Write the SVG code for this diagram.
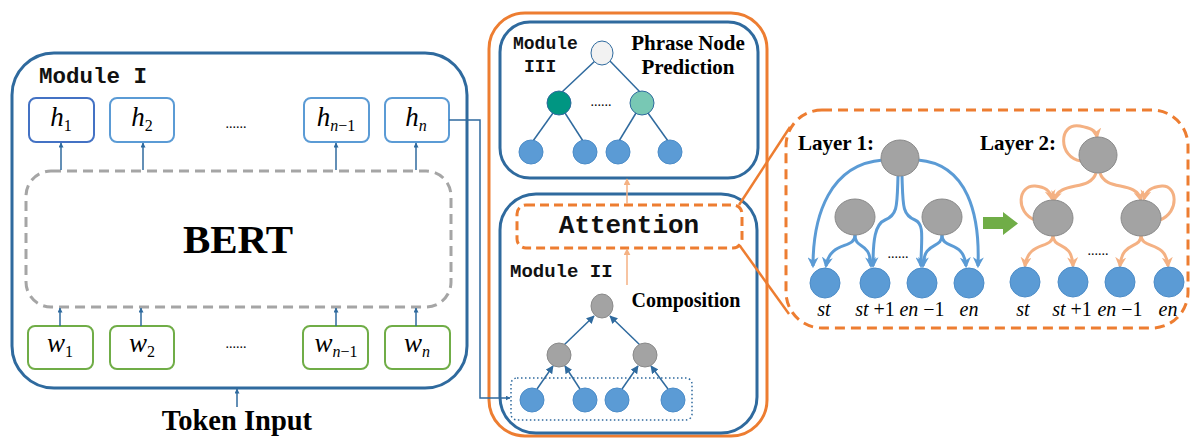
<svg xmlns="http://www.w3.org/2000/svg" width="1192" height="438" viewBox="0 0 1192 438">
<defs>
<style>
.mod{fill:none;stroke:#2F6A9E;stroke-width:3}
.hbox{fill:#fff;stroke:#5B9BD5;stroke-width:2}
.wbox{fill:#fff;stroke:#70AD47;stroke-width:2}
.mono{font-family:"Liberation Mono","Courier New",monospace;font-weight:bold;fill:#111}
.serifb{font-family:"Liberation Serif","Times New Roman",serif;font-weight:bold;fill:#000}
.math{font-family:"Liberation Serif","Times New Roman",serif;fill:#000}
.it{font-style:italic}
.dots{font-family:"Liberation Serif",serif;font-size:14px;fill:#000}
.gray{fill:#A3A3A3;stroke:#8A8A8A;stroke-width:1}
.leaf{fill:#5B9BD5;stroke:#4C8CC8;stroke-width:1}
.thin{stroke:#2F6A9E;stroke-width:1.5;fill:none}
.b1{stroke:#5B9BD5;stroke-width:3;fill:none;marker-end:url(#ab)}
.o2{stroke:#F4B183;stroke-width:3;fill:none;marker-end:url(#ao)}
.tree3{stroke:#2F6A9E;stroke-width:1.5}
</style>
<marker id="as" viewBox="0 0 10 10" refX="9" refY="5" markerWidth="5" markerHeight="5" markerUnits="userSpaceOnUse" orient="auto">
<path d="M0,0 L10,5 L0,10 z" fill="#2F6A9E"/>
</marker>
<marker id="am" viewBox="0 0 10 10" refX="9" refY="5" markerWidth="8" markerHeight="8" markerUnits="userSpaceOnUse" orient="auto">
<path d="M0,0 L10,5 L0,10 z" fill="#2F6A9E"/>
</marker>
<marker id="al" viewBox="0 0 10 10" refX="9" refY="5" markerWidth="7" markerHeight="7" markerUnits="userSpaceOnUse" orient="auto">
<path d="M0,0 L10,5 L0,10 z" fill="#F4B183"/>
</marker>
<marker id="ab" viewBox="0 0 10 10" refX="8" refY="5" markerWidth="11" markerHeight="11" markerUnits="userSpaceOnUse" orient="auto">
<path d="M0,0 L10,5 L0,10 L3,5 z" fill="#5B9BD5"/>
</marker>
<marker id="ao" viewBox="0 0 10 10" refX="8" refY="5" markerWidth="11" markerHeight="11" markerUnits="userSpaceOnUse" orient="auto">
<path d="M0,0 L10,5 L0,10 L3,5 z" fill="#F4B183"/>
</marker>
</defs>

<g id="module1">
<rect class="mod" x="12" y="53" width="455" height="335" rx="42"/>
<text class="mono" x="39" y="83" font-size="22.5">Module I</text>
</g>
<g id="bert">
<rect x="26" y="171" width="425" height="136" rx="25" fill="none" stroke="#A5A5A5" stroke-width="3" stroke-dasharray="10 6"/>
<text class="serifb" x="238" y="253" font-size="41" text-anchor="middle">BERT</text>
</g>
<g id="h1"><rect x="29" y="98" width="65" height="44" rx="7" fill="#fff" stroke="#4472C4" stroke-width="2"/>
<text class="math" x="61" y="126" font-size="27" text-anchor="middle"><tspan class="it">h</tspan><tspan font-size="16" dy="5">1</tspan></text></g>
<g id="h2"><rect class="hbox" x="110" y="98" width="64" height="44" rx="7"/>
<text class="math" x="142" y="126" font-size="27" text-anchor="middle"><tspan class="it">h</tspan><tspan font-size="16" dy="5">2</tspan></text></g>
<g id="hdots"><text class="dots" x="236" y="128" text-anchor="middle">......</text></g>
<g id="hn1"><rect class="hbox" x="304" y="98" width="65" height="44" rx="7"/>
<text class="math" x="336" y="126" font-size="27" text-anchor="middle"><tspan class="it">h</tspan><tspan font-size="16" dy="5"><tspan class="it">n</tspan>−1</tspan></text></g>
<g id="hn"><rect class="hbox" x="385" y="98" width="64" height="44" rx="7"/>
<text class="math" x="416" y="126" font-size="27" text-anchor="middle"><tspan class="it">h</tspan><tspan font-size="16" dy="5" class="it">n</tspan></text></g>

<g id="w1"><rect class="wbox" x="28" y="326" width="65" height="43" rx="7"/>
<text class="math" x="60" y="352" font-size="27" text-anchor="middle"><tspan class="it">w</tspan><tspan font-size="16" dy="5">1</tspan></text></g>
<g id="w2"><rect class="wbox" x="110" y="326" width="64" height="43" rx="7"/>
<text class="math" x="142" y="352" font-size="27" text-anchor="middle"><tspan class="it">w</tspan><tspan font-size="16" dy="5">2</tspan></text></g>
<g id="wdots"><text class="dots" x="236" y="348" text-anchor="middle">......</text></g>
<g id="wn1"><rect class="wbox" x="303" y="326" width="65" height="43" rx="7"/>
<text class="math" x="336" y="352" font-size="27" text-anchor="middle"><tspan class="it">w</tspan><tspan font-size="16" dy="5"><tspan class="it">n</tspan>−1</tspan></text></g>
<g id="wn"><rect class="wbox" x="385" y="326" width="65" height="43" rx="7"/>
<text class="math" x="417" y="352" font-size="27" text-anchor="middle"><tspan class="it">w</tspan><tspan font-size="16" dy="5" class="it">n</tspan></text></g>

<g id="token-input"><text class="serifb" x="237" y="430" font-size="28.5" text-anchor="middle">Token Input</text></g>

<g id="outer-orange"><rect x="489" y="13" width="278" height="423" rx="36" fill="none" stroke="#ED7D31" stroke-width="3"/></g>

<g id="module3">
<rect class="mod" x="500" y="22" width="258" height="156" rx="30"/>
<text class="mono" x="513" y="49" font-size="18">Module</text>
<text class="mono" x="524" y="72" font-size="18">III</text>
<text class="serifb" x="688" y="50" font-size="21" text-anchor="middle">Phrase Node</text>
<text class="serifb" x="688" y="74" font-size="21" text-anchor="middle">Prediction</text>
<g class="tree3">
<line x1="596" y1="60" x2="562" y2="92"/><line x1="609" y1="60" x2="640" y2="92"/>
<line x1="553" y1="113" x2="533" y2="141"/><line x1="565" y1="113" x2="583" y2="141"/>
<line x1="636" y1="113" x2="619" y2="141"/><line x1="648" y1="113" x2="668" y2="141"/>
</g>
<ellipse cx="602" cy="53" rx="11" ry="12" fill="#F2F2F2" stroke="#2F6A9E" stroke-width="1"/>
<ellipse cx="559" cy="103" rx="12" ry="12" fill="#009682" stroke="#2F6A9E" stroke-width="1"/>
<ellipse cx="642" cy="103" rx="12" ry="12" fill="#78C8B4" stroke="#2F6A9E" stroke-width="1"/>
<text class="dots" x="601" y="106" text-anchor="middle">......</text>
<circle class="leaf" cx="531" cy="152" r="12"/><circle class="leaf" cx="585" cy="152" r="12"/>
<circle class="leaf" cx="618" cy="152" r="12"/><circle class="leaf" cx="670" cy="152" r="12"/>
</g>

<g id="module2">
<rect class="mod" x="500" y="194" width="257" height="239" rx="36"/>
<text class="mono" x="510" y="277" font-size="19">Module II</text>
<text class="serifb" x="686" y="307" font-size="20" text-anchor="middle">Composition</text>
<rect x="511" y="378" width="181" height="42" rx="6" fill="none" stroke="#2F6A9E" stroke-width="1.5" stroke-dasharray="1.5 2.5"/>
<g class="thin" marker-end="url(#am)">
<line x1="537" y1="389" x2="553" y2="366"/><line x1="580" y1="389" x2="565" y2="366"/>
<line x1="622" y1="389" x2="638" y2="366"/><line x1="668" y1="389" x2="651" y2="366"/>
<line x1="564" y1="345" x2="594" y2="316"/><line x1="640" y1="345" x2="610" y2="316"/>
</g>
<ellipse class="gray" cx="602" cy="306" rx="11" ry="12"/>
<ellipse class="gray" cx="559" cy="355" rx="12" ry="12"/>
<ellipse class="gray" cx="645" cy="355" rx="12" ry="12"/>
<circle class="leaf" cx="532" cy="400" r="12"/><circle class="leaf" cx="585" cy="400" r="12"/>
<circle class="leaf" cx="617" cy="400" r="12"/><circle class="leaf" cx="673" cy="400" r="12"/>
</g>

<g id="attention">
<rect x="517" y="205" width="225" height="43" rx="9" fill="#fff" stroke="#ED7D31" stroke-width="3" stroke-dasharray="9 5"/>
<text class="mono" x="629" y="233" font-size="26" text-anchor="middle">Attention</text>
</g>

<g id="layers">
<rect x="786" y="110" width="402" height="218" rx="36" fill="none" stroke="#ED7D31" stroke-width="3" stroke-dasharray="10 6"/>
<text class="serifb" x="798" y="150" font-size="21">Layer 1:</text>
<text class="serifb" x="980" y="150" font-size="21">Layer 2:</text>
<g id="layer1">
<path class="b1" d="M883,160 C830,164 813,215 813,266"/>
<path class="b1" d="M918,160 C968,164 980,215 978,266"/>
<path class="b1" d="M898,176 C897,205 898,215 885,220 C875,224 873,240 873,266"/>
<path class="b1" d="M902,176 C903,205 902,215 915,220 C925,224 921,240 921,266"/>
<path class="b1" d="M855,235 C855,250 830,240 826,266"/>
<path class="b1" d="M855,235 C855,250 870,240 871,266"/>
<path class="b1" d="M942,235 C942,250 924,240 923,266"/>
<path class="b1" d="M942,235 C942,250 964,240 966,266"/>
<ellipse class="gray" cx="900" cy="158" rx="19" ry="18"/>
<ellipse class="gray" cx="855" cy="217" rx="20" ry="18"/>
<ellipse class="gray" cx="942" cy="217" rx="20" ry="18"/>
<text class="dots" x="898" y="258" text-anchor="middle">......</text>
<circle class="leaf" cx="825" cy="283" r="15"/><circle class="leaf" cx="875" cy="283" r="15"/>
<circle class="leaf" cx="922" cy="283" r="15"/><circle class="leaf" cx="969" cy="283" r="15"/>
<text class="math it" font-size="20" y="316" text-anchor="middle" x="824">st</text>
<text class="math" font-size="20" y="316" text-anchor="middle" x="875"><tspan class="it">st</tspan> +1</text>
<text class="math" font-size="20" y="316" text-anchor="middle" x="922"><tspan class="it">en</tspan> −1</text>
<text class="math it" font-size="20" y="316" text-anchor="middle" x="969">en</text>
</g>
<g id="green-arrow"><path d="M983,217 H1003 V212 L1018,223.5 L1003,235 V229 H983 z" fill="#70AD47"/></g>
<g id="layer2">
<path class="o2" d="M1081,161 C1058,158 1058,122 1080,126 C1090,128 1096,130 1097,137"/>
<path class="o2" d="M1096,173 C1090,192 1060,180 1054,200"/>
<path class="o2" d="M1100,173 C1106,192 1136,180 1141,200"/>
<path class="o2" d="M1035,220 C1015,212 1018,185 1035,186 C1045,187 1050,190 1052,199"/>
<path class="o2" d="M1160,220 C1180,212 1177,185 1162,186 C1152,187 1146,190 1144,199"/>
<path class="o2" d="M1053,235 C1053,250 1028,240 1025,266"/>
<path class="o2" d="M1053,235 C1053,250 1072,240 1073,266"/>
<path class="o2" d="M1141,235 C1141,250 1122,240 1120,266"/>
<path class="o2" d="M1141,235 C1141,250 1166,240 1168,266"/>
<ellipse class="gray" cx="1098" cy="155" rx="19" ry="18"/>
<ellipse class="gray" cx="1053" cy="218" rx="20" ry="18"/>
<ellipse class="gray" cx="1141" cy="218" rx="20" ry="18"/>
<text class="dots" x="1098" y="255" text-anchor="middle">......</text>
<circle class="leaf" cx="1025" cy="282" r="15"/><circle class="leaf" cx="1073" cy="282" r="15"/>
<circle class="leaf" cx="1120" cy="282" r="15"/><circle class="leaf" cx="1169" cy="282" r="15"/>
<text class="math it" font-size="20" y="316" text-anchor="middle" x="1023">st</text>
<text class="math" font-size="20" y="316" text-anchor="middle" x="1072"><tspan class="it">st</tspan> +1</text>
<text class="math" font-size="20" y="316" text-anchor="middle" x="1120"><tspan class="it">en</tspan> −1</text>
<text class="math it" font-size="20" y="316" text-anchor="middle" x="1168">en</text>
</g>
</g>

<g id="connectors">
<g class="thin" marker-end="url(#as)">
<line x1="61" y1="170" x2="61" y2="143"/><line x1="143" y1="170" x2="143" y2="143"/>
<line x1="336" y1="170" x2="336" y2="143"/><line x1="416" y1="170" x2="416" y2="143"/>
<line x1="60" y1="326" x2="60" y2="308"/><line x1="141" y1="326" x2="141" y2="308"/>
<line x1="336" y1="326" x2="336" y2="308"/><line x1="416" y1="326" x2="416" y2="308"/>
<line x1="237" y1="407" x2="237" y2="389"/>
<path d="M449,120 H480 V398 H510"/>
</g>
<line x1="627" y1="204" x2="627" y2="179" stroke="#F4B183" stroke-width="1.5" marker-end="url(#al)"/>
<line x1="627" y1="285" x2="627" y2="249" stroke="#F4B183" stroke-width="1.5" marker-end="url(#al)"/>
<line x1="739" y1="205" x2="790" y2="127" stroke="#ED7D31" stroke-width="2.5"/>
<line x1="740" y1="246" x2="789" y2="314" stroke="#ED7D31" stroke-width="2.5"/>
</g>
</svg>
